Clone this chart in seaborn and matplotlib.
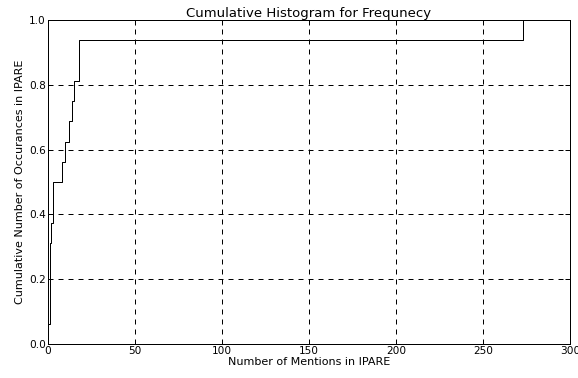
import numpy as np
import pandas as pd
import matplotlib
matplotlib.use("Agg")
import matplotlib.pyplot as plt
import seaborn as sns

sns.set_theme(style="white")
plt.rcParams['font.family'] = ['DejaVu Sans']
plt.rcParams['text.color'] = 'black'
plt.rcParams['axes.labelcolor'] = 'black'

# number of mentions for each term
mentions = [0, 1, 1, 1, 1, 2, 3, 3, 8, 10, 12, 14, 15, 18, 18, 273]
x_ticks = [0, 50, 100, 150, 200, 250, 300]
y_ticks = [0.0, 0.2, 0.4, 0.6, 0.8, 1.0]

df = pd.DataFrame({"mentions": mentions})

fig = plt.figure(figsize=(578 / 72, 378 / 72), dpi=72)
ax = fig.add_axes([48 / 578, 34 / 378, 522 / 578, 324 / 378])

sns.ecdfplot(data=df, x="mentions", stat="proportion", color="black", lw=1, ax=ax)

ax.set_xlim(0, 300)
ax.set_ylim(0, 1.0)
ax.set_xticks(x_ticks)
ax.set_yticks(y_ticks)
ax.set_yticklabels(["%.1f" % v for v in y_ticks])

ax.grid(True, color="black", linestyle="--", linewidth=1, dashes=(5, 5))
ax.tick_params(direction="in", top=True, right=True, length=5, width=1,
               labelsize=10.5, colors="black", pad=2)
for s in ax.spines.values():
    s.set_color("black")
    s.set_linewidth(1)

ax.set_title("Cumulative Histogram for Frequnecy", fontsize=13.3, pad=3)
ax.set_xlabel("Number of Mentions in IPARE", fontsize=11.1, labelpad=1)
ax.set_ylabel("Cumulative Number of Occurances in IPARE", fontsize=11.1, labelpad=4)

fig.savefig("out.png", dpi=72)
